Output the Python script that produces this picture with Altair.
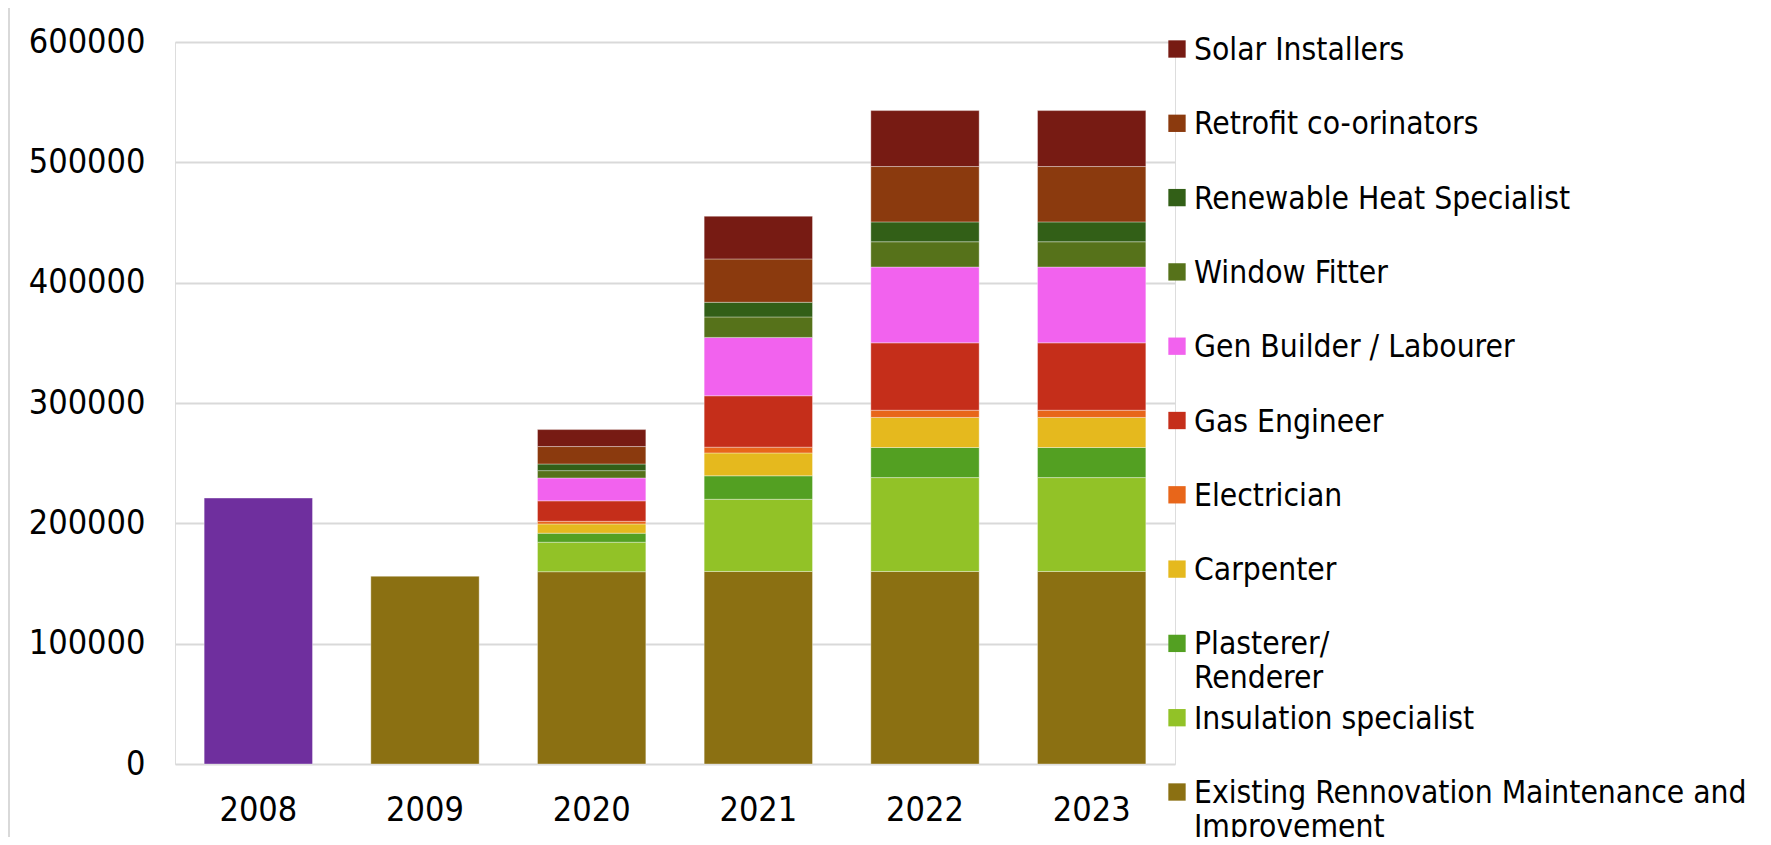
import altair as alt
import pandas as pd

years = ["2008", "2009", "2020", "2021", "2022", "2023"]

# stack order: bottom -> top
series = [
    "Existing Rennovation Maintenance and Improvement",
    "Insulation specialist",
    "Plasterer/ Renderer",
    "Carpenter",
    "Electrician",
    "Gas Engineer",
    "Gen Builder / Labourer",
    "Window Fitter",
    "Renewable Heat Specialist",
    "Retrofit co-orinators",
    "Solar Installers",
]
legend_labels = [
    "Existing Rennovation Maintenance and\nImprovement",
    "Insulation specialist",
    "Plasterer/\nRenderer",
    "Carpenter",
    "Electrician",
    "Gas Engineer",
    "Gen Builder / Labourer",
    "Window Fitter",
    "Renewable Heat Specialist",
    "Retrofit co-orinators",
    "Solar Installers",
]
colors = [
    "#8B7012", "#92C227", "#53A022", "#E5B91E", "#E8661A", "#C52E1A",
    "#F262EE", "#56721A", "#325F17", "#8B3A0E", "#771B13",
]

# values per series for 2008, 2009, 2020, 2021, 2022, 2023
values = {
    "Existing Rennovation Maintenance and Improvement": [0, 156000, 159800, 160000, 160000, 160000],
    "Insulation specialist": [0, 0, 24500, 60000, 78000, 78000],
    "Plasterer/ Renderer": [0, 0, 7500, 19500, 25000, 25000],
    "Carpenter": [0, 0, 7700, 19000, 25000, 25000],
    "Electrician": [0, 0, 2200, 4800, 6000, 6000],
    "Gas Engineer": [0, 0, 17000, 42700, 56000, 56000],
    "Gen Builder / Labourer": [0, 0, 19000, 48500, 63000, 63000],
    "Window Fitter": [0, 0, 6100, 17000, 21000, 21000],
    "Renewable Heat Specialist": [0, 0, 5500, 12200, 16500, 16500],
    "Retrofit co-orinators": [0, 0, 14500, 36000, 46000, 46000],
    "Solar Installers": [0, 0, 14100, 35500, 46500, 46500],
}
total_2008_name = "Total 2008"
total_2008 = [221000, 0, 0, 0, 0, 0]
total_2008_color = "#6F2F9E"

FONT = "DejaVu Sans Condensed, Liberation Sans, sans-serif"

rows = []
for i, s in enumerate(series):
    for y, v in zip(years, values[s]):
        if v > 0:
            rows.append({"year": y, "series": s, "value": v, "order": i})
for y, v in zip(years, total_2008):
    if v > 0:
        rows.append({"year": y, "series": total_2008_name, "value": v, "order": 0})
df = pd.DataFrame(rows)

color_scale = alt.Scale(domain=series + [total_2008_name], range=colors + [total_2008_color])

bars = alt.Chart(df).mark_bar(stroke="white", strokeWidth=1, strokeOpacity=0.35).encode(
    x=alt.X("year:N", sort=years, title=None,
            scale=alt.Scale(paddingInner=0.35, paddingOuter=0.175),
            axis=alt.Axis(labelAngle=0, ticks=False, domain=False, labelPadding=29,
                          labelFontSize=34, labelFont=FONT, labelColor="#000000")),
    y=alt.Y("value:Q", stack="zero", title=None,
            scale=alt.Scale(domain=[0, 600000], nice=False),
            axis=alt.Axis(values=[0, 100000, 200000, 300000, 400000, 500000, 600000],
                          format="d", ticks=False, domain=False, labelPadding=30,
                          gridColor="#D9D9D9", gridWidth=2,
                          labelFontSize=34, labelFont=FONT, labelColor="#000000")),
    color=alt.Color("series:N", scale=color_scale, legend=None),
    order=alt.Order("order:Q", sort="ascending"),
)

legend_order = list(reversed(series))
leg_df = pd.DataFrame({
    "series": list(reversed(series)),
    "label": list(reversed(legend_labels)),
})

leg_y = alt.Y("series:N", sort=legend_order, axis=None,
              scale=alt.Scale(type="point", domain=legend_order, range=[7, 750], padding=0))

leg_sym = alt.Chart(leg_df).mark_square(size=300, opacity=1).encode(
    x=alt.value(1002),
    y=leg_y,
    color=alt.Color("series:N", scale=color_scale, legend=None),
)

leg_txt = alt.Chart(leg_df).transform_calculate(
    lines="split(datum.label, '\\n')"
).mark_text(align="left", baseline="alphabetic", dy=11, fontSize=31.5,
            lineHeight=34, font=FONT, color="#000000").encode(
    x=alt.value(1019),
    y=leg_y,
    text=alt.Text("lines:N"),
)

frame = alt.Chart(leg_df).mark_rule(color="#D9D9D9", strokeWidth=2).encode(
    x=alt.value(-166), y=alt.value(-34), y2=alt.value(800)
)

chart = alt.layer(bars, leg_sym, leg_txt, frame).resolve_scale(
    y="independent"
).properties(
    width=1000,
    height=722,
    autosize=alt.AutoSizeParams(type="none"),
    padding={"left": 167, "top": 34, "right": 588, "bottom": 73},
).configure_view(stroke=None).configure(background="white")

chart.save("out.html", embed_options={"renderer": "svg", "actions": False})
